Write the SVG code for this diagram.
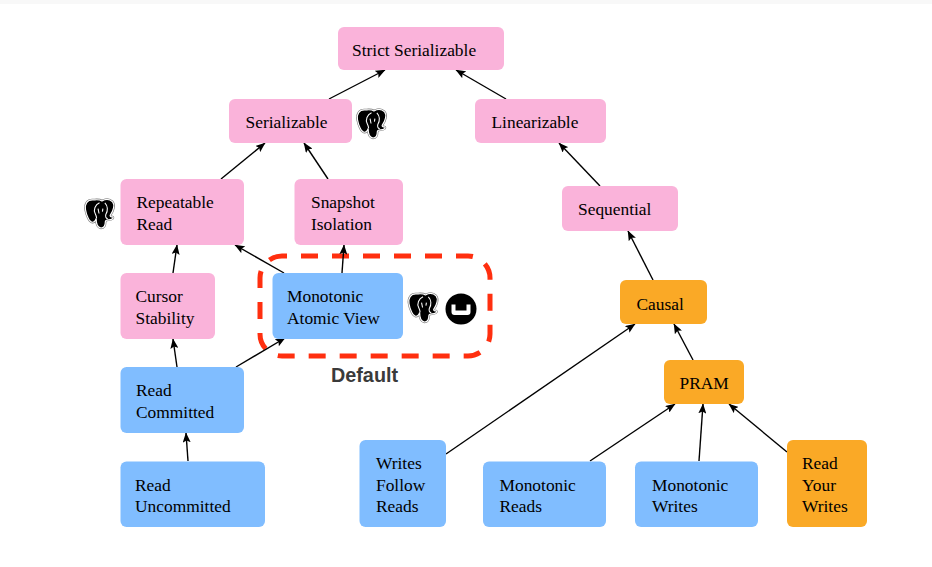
<svg xmlns="http://www.w3.org/2000/svg" width="932" height="567" viewBox="0 0 932 567">
<style>
.pink{fill:#fab3da}.blue{fill:#80bdff}.orange{fill:#faa926}
text{font-family:"Liberation Serif","Times New Roman",serif;font-size:17.4px;fill:#000}
.c line{stroke:#000;stroke-width:1.4;marker-end:url(#a)}
</style>
<defs>
<marker id="a" viewBox="0 0 10 8" refX="9.5" refY="4" markerWidth="10" markerHeight="8" markerUnits="userSpaceOnUse" orient="auto"><path d="M0 0L10 4L0 8L2 4Z" fill="#000"/></marker>
<path id="pgo" d="M8 2C3 2 0 6 1 12C2 18 5 25 8 25C10 25 11.500 23 12 21C12 25 12.500 30.500 17 31C20.500 31 21.500 28 21.500 24.500C21.500 23 23 22.500 25 22.500C28.500 22.500 30.500 20.500 29 19.500C27.500 19.500 26.500 19 26.500 18C30 13 31.500 7 29 4C26 1 21.500 1 18 3C15 1 11.500 2 8 2Z"/>
<symbol id="pg" viewBox="0 0 32 32" overflow="visible">
<use href="#pgo" fill="none" stroke="#777" stroke-width="2.4"/>
<use href="#pgo" fill="#000" stroke="#fff" stroke-width="1.200"/>
<path d="M15.500 5C11 7 9 12 11 16C12 18 12.500 19 12.500 21M21 5C24 8 24.500 13 22 17C21.500 19 22 21 24 21.500M14 11L15 16M19 11L18.500 14" fill="none" stroke="#fff" stroke-width="1.1"/>
</symbol>
</defs>
<rect width="932" height="567" fill="#fff"/>
<rect width="932" height="4" fill="#f8f8f8"/>
<rect x="260" y="256" width="230" height="100" rx="22" fill="none" stroke="#ff2f0f" stroke-width="5" stroke-dasharray="17 14" stroke-dashoffset="12"/>
<g class="c">
<line x1="329" y1="99" x2="385" y2="70"/>
<line x1="506" y1="99" x2="456" y2="70"/>
<line x1="221" y1="179" x2="265" y2="143"/>
<line x1="328" y1="179" x2="304" y2="143"/>
<line x1="600" y1="186" x2="559" y2="143"/>
<line x1="653" y1="280" x2="628" y2="231"/>
<line x1="173" y1="273" x2="177" y2="245"/>
<line x1="284" y1="273" x2="235" y2="245"/>
<line x1="342" y1="273" x2="344" y2="245"/>
<line x1="177" y1="367" x2="173" y2="339"/>
<line x1="236" y1="367" x2="285" y2="338"/>
<line x1="188" y1="461" x2="186" y2="433"/>
<line x1="446" y1="454" x2="635" y2="324"/>
<line x1="693" y1="360" x2="674" y2="324"/>
<line x1="590" y1="461" x2="675" y2="404"/>
<line x1="699" y1="461" x2="703" y2="404"/>
<line x1="787" y1="452" x2="729" y2="404"/>
</g>
<g id="strict-serializable"><rect class="pink" x="338" y="27" width="166" height="43" rx="6"/><text x="352" y="56">Strict Serializable</text></g>
<g id="serializable"><rect class="pink" x="229" y="99" width="123" height="44" rx="6"/><text x="245.500" y="128">Serializable</text></g>
<g id="linearizable"><rect class="pink" x="475" y="99" width="131" height="44" rx="6"/><text x="491.500" y="128">Linearizable</text></g>
<g id="repeatable-read"><rect class="pink" x="120.500" y="179" width="123.500" height="66" rx="6"/><text x="136.500" y="208">Repeatable</text><text x="136.500" y="230">Read</text></g>
<g id="snapshot-isolation"><rect class="pink" x="294.500" y="179" width="108.500" height="66" rx="6"/><text x="311" y="208">Snapshot</text><text x="311" y="230">Isolation</text></g>
<g id="sequential"><rect class="pink" x="562" y="186" width="116" height="45" rx="6"/><text x="578" y="215">Sequential</text></g>
<g id="cursor-stability"><rect class="pink" x="120.500" y="273" width="94.500" height="66" rx="6"/><text x="135.500" y="302">Cursor</text><text x="135.500" y="324">Stability</text></g>
<g id="monotonic-atomic-view"><rect class="blue" x="272.500" y="273" width="130.500" height="66" rx="6"/><text x="287" y="302">Monotonic</text><text x="287" y="324">Atomic View</text></g>
<g id="causal"><rect class="orange" x="620" y="280" width="87" height="44" rx="6"/><text x="636.500" y="310">Causal</text></g>
<g id="pram"><rect class="orange" x="664" y="360" width="80" height="44" rx="6"/><text x="679.500" y="389">PRAM</text></g>
<g id="read-committed"><rect class="blue" x="120.500" y="367" width="123.500" height="66" rx="6"/><text x="136" y="396">Read</text><text x="136" y="418">Committed</text></g>
<g id="read-uncommitted"><rect class="blue" x="120.500" y="461.500" width="144.500" height="65.500" rx="6"/><text x="135" y="491">Read</text><text x="135" y="512">Uncommitted</text></g>
<g id="writes-follow-reads"><rect class="blue" x="359.500" y="440" width="86.500" height="87" rx="6"/><text x="376" y="469">Writes</text><text x="376" y="491">Follow</text><text x="376" y="512">Reads</text></g>
<g id="monotonic-reads"><rect class="blue" x="483" y="461.500" width="123" height="65.500" rx="6"/><text x="499.500" y="491">Monotonic</text><text x="499.500" y="512">Reads</text></g>
<g id="monotonic-writes"><rect class="blue" x="635" y="461.500" width="123" height="65.500" rx="6"/><text x="652" y="491">Monotonic</text><text x="652" y="512">Writes</text></g>
<g id="read-your-writes"><rect class="orange" x="787" y="440" width="80" height="87" rx="6"/><text x="802" y="469">Read</text><text x="802" y="491">Your</text><text x="802" y="512">Writes</text></g>
<g id="default-label"><text x="331" y="381.500" style="font-family:'Liberation Sans',Arial,sans-serif;font-size:19.8px;font-weight:700;fill:#3a3a3a">Default</text></g>
<g id="icon-pg-serializable"><use href="#pg" x="356.500" y="107" width="31" height="33"/></g>
<g id="icon-pg-repeatable"><use href="#pg" x="84.500" y="197" width="31" height="33"/></g>
<g id="icon-pg-mav"><use href="#pg" x="408" y="291" width="31" height="33"/></g>
<g id="icon-couchbase"><circle cx="461" cy="309" r="15.500" fill="#000"/><path d="M451.500 304.500V312Q451.500 315 454.500 315H467.500Q470.500 315 470.500 312V304.500H466.500V310.500H455.500V304.500Z" fill="#fff"/></g>
</svg>
